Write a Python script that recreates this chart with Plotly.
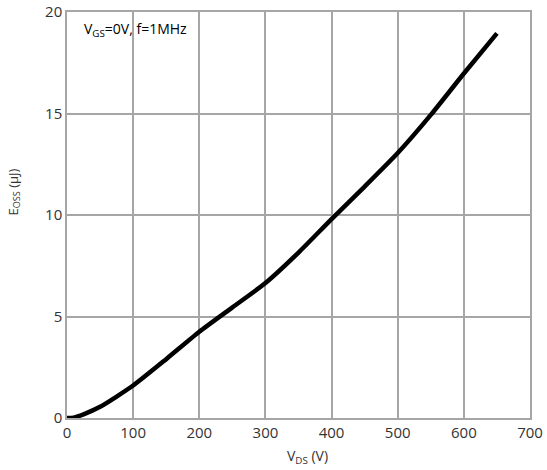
import plotly.graph_objects as go

# Data
vds_v = [0, 10, 25, 50, 100, 150, 200, 250, 300, 350, 400, 450, 500, 550, 600, 650]
eoss_uj = [0.0, 0.02, 0.18, 0.55, 1.6, 2.9, 4.25, 5.45, 6.65, 8.15, 9.8, 11.4, 13.05, 14.93, 16.97, 18.95]

x_ticks = [0, 100, 200, 300, 400, 500, 600, 700]
y_ticks = [0, 5, 10, 15, 20]

FONT = "Open Sans"
TICK_COLOR = "#333333"
GRID = "#a6a6a6"

fig = go.Figure()
fig.add_trace(go.Scatter(
    x=vds_v, y=eoss_uj, mode="lines",
    line=dict(color="black", width=4.5, shape="spline", smoothing=0.6),
    showlegend=False, hoverinfo="skip",
))

axis_common = dict(
    showgrid=True, gridcolor=GRID, gridwidth=1.5,
    showline=True, linecolor=GRID, linewidth=1.5, mirror=True,
    zeroline=False, ticks="", automargin=False,
    tickfont=dict(family=FONT, size=15, color=TICK_COLOR),
)

fig.update_layout(
    width=547, height=470, autosize=False,
    margin=dict(l=67, r=17, t=12, b=52, pad=0),
    paper_bgcolor="white", plot_bgcolor="white",
    xaxis=dict(range=[0, 700], tickvals=x_ticks, ticktext=[str(v) for v in x_ticks], **axis_common),
    yaxis=dict(range=[0, 20], tickvals=y_ticks, ticktext=[str(v) for v in y_ticks], **axis_common),
    annotations=[
        dict(text="V<sub>GS</sub>=0V, f=1MHz", xref="paper", yref="paper",
             x=0.032, y=0.957, xanchor="left", yanchor="middle", showarrow=False,
             font=dict(family=FONT, size=14, color="black")),
        dict(text="V<sub>DS</sub> (V)", xref="paper", yref="paper",
             x=0.52, y=-0.094, xanchor="center", yanchor="middle", showarrow=False,
             font=dict(family=FONT, size=14, color=TICK_COLOR)),
        dict(text="E<sub>OSS</sub> (µJ)", xref="paper", yref="paper",
             x=-0.1145, y=0.558, xanchor="center", yanchor="middle", showarrow=False,
             textangle=-90,
             font=dict(family=FONT, size=13, color=TICK_COLOR)),
    ],
)

fig.write_html("out.html", config={"displayModeBar": False},
               post_script="document.body.style.margin='0';")
